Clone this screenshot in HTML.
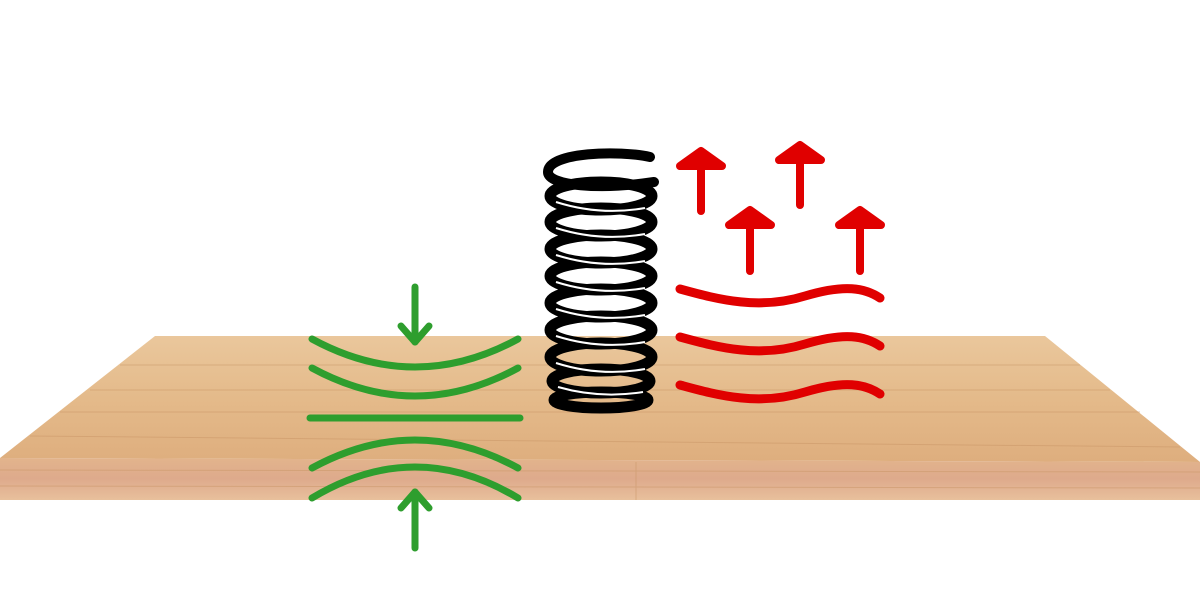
<!DOCTYPE html>
<html><head><style>
html,body{margin:0;padding:0;background:#fff;width:1200px;height:600px;overflow:hidden}
</style></head><body>
<svg width="1200" height="600" viewBox="0 0 1200 600" xmlns="http://www.w3.org/2000/svg">
<defs>
<linearGradient id="top" x1="0" y1="0" x2="0" y2="1">
<stop offset="0" stop-color="#eac79c"/>
<stop offset="0.5" stop-color="#e4ba8a"/>
<stop offset="1" stop-color="#deae7e"/>
</linearGradient>
<linearGradient id="front" x1="0" y1="0" x2="0" y2="1">
<stop offset="0" stop-color="#e2b48c"/>
<stop offset="0.5" stop-color="#deaa8c"/>
<stop offset="1" stop-color="#e8c09c"/>
</linearGradient>
</defs>
<polygon points="155,336 1045,336 1200,462 0,458" fill="url(#top)"/>
<polygon points="0,458 1200,462 1200,500 0,500" fill="url(#front)"/>
<g stroke="#c99566" stroke-width="1" opacity="0.5">
<line x1="120" y1="365" x2="1080" y2="365"/>
<line x1="90" y1="390" x2="1110" y2="390"/>
<line x1="60" y1="412" x2="1140" y2="412"/>
<line x1="30" y1="436" x2="1180" y2="447"/>
<line x1="0" y1="470" x2="1200" y2="472"/>
<line x1="0" y1="486" x2="1200" y2="488"/>
<line x1="636" y1="462" x2="636" y2="500"/>
</g>
<g fill="none">
<path d="M650,157 C620,150 548,152 548,172 C548,186 600,190 654,182" stroke="#000" stroke-width="10" stroke-linecap="round"/>
<g stroke="#000" stroke-width="11">
<ellipse cx="601" cy="196" rx="51" ry="14"/>
<ellipse cx="601" cy="222" rx="51" ry="14"/>
<ellipse cx="601" cy="249" rx="51" ry="14"/>
<ellipse cx="601" cy="276" rx="51" ry="14"/>
<ellipse cx="601" cy="303" rx="51" ry="14"/>
<ellipse cx="601" cy="330" rx="51" ry="14"/>
<ellipse cx="601" cy="357" rx="51" ry="14"/>
<ellipse cx="601" cy="381" rx="49" ry="12"/>
<ellipse cx="601" cy="400" rx="47" ry="8"/>
</g>
<g stroke="#fff" stroke-width="2">
<path d="M556,202 Q600,216 645,208"/>
<path d="M556,228 Q600,242 645,234"/>
<path d="M556,255 Q600,269 645,261"/>
<path d="M556,282 Q600,296 645,288"/>
<path d="M556,309 Q600,323 645,315"/>
<path d="M556,336 Q600,350 645,342"/>
<path d="M556,363 Q600,377 645,369"/>
<path d="M558,387 Q600,399 643,392"/>
</g>
</g>
<g fill="none" stroke="#2e9e2e" stroke-width="7" stroke-linecap="round" stroke-linejoin="round">
<line x1="415" y1="287" x2="415" y2="342"/>
<polyline points="401,326 415,342 429,326"/>
<path d="M312,339 Q415,395 518,339"/>
<path d="M312,368 Q415,424 518,368"/>
<line x1="310" y1="418" x2="520" y2="418"/>
<path d="M312,468 Q415,412 518,468"/>
<path d="M312,498 Q415,436 518,498"/>
<line x1="415" y1="492" x2="415" y2="548"/>
<polyline points="401,508 415,492 429,508"/>
</g>
<g fill="#e00000" stroke="#e00000" stroke-width="8" stroke-linecap="round" stroke-linejoin="round">
<line x1="701" y1="160" x2="701" y2="211"/>
<polygon points="701,151 680,166 722,166"/>
<line x1="800" y1="155" x2="800" y2="205"/>
<polygon points="800,145 779,160 821,160"/>
<line x1="750" y1="220" x2="750" y2="271"/>
<polygon points="750,210 729,225 771,225"/>
<line x1="860" y1="220" x2="860" y2="271"/>
<polygon points="860,210 839,225 881,225"/>
</g>
<g fill="none" stroke="#e00000" stroke-width="9" stroke-linecap="round">
<path d="M680,289 C720,300 760,310 805,296 C845,284 865,288 880,298"/>
<path d="M680,337 C720,348 760,358 805,344 C845,332 865,336 880,346"/>
<path d="M680,385 C720,396 760,406 805,392 C845,380 865,384 880,394"/>
</g>
</svg>
</body></html>
